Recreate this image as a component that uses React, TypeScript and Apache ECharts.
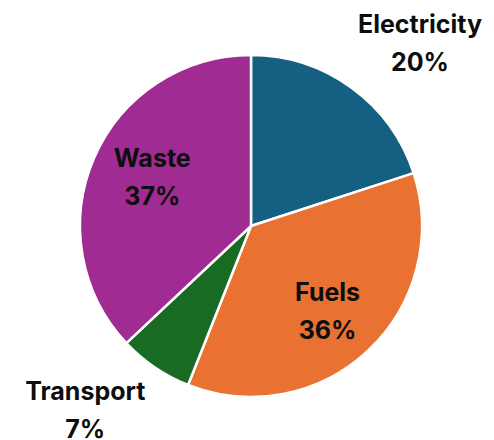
import React, { useEffect, useRef } from "react";
import * as echarts from "echarts";

const categories = ["Electricity", "Fuels", "Transport", "Waste"];
const values = [20, 36, 7, 37];

const sliceColors = ["#156082", "#E97132", "#196B24", "#A02B93"];
const labelOffsets: [number, number][] = [
  [117, -111.5],
  [16, 20],
  [-116, 111],
  [-17.5, -13.5],
];

export default function App() {
  const ref = useRef<HTMLDivElement>(null);
  useEffect(() => {
    document.body.style.margin = "0";
    if (!ref.current) return;
    const chart = echarts.init(ref.current, undefined, { renderer: "svg" });
    chart.setOption({
      animation: false,
      backgroundColor: "#ffffff",
      series: [
        {
          type: "pie",
          center: [251, 226],
          radius: 171,
          startAngle: 90,
          clockwise: true,
          avoidLabelOverlap: false,
          itemStyle: { borderColor: "#ffffff", borderWidth: 2.5 },
          label: {
            show: true,
            position: "inside",
            formatter: "{b}\n{d}%",
            fontFamily: "Inter",
            fontWeight: "bold",
            fontSize: 25,
            lineHeight: 38,
            color: "#0d0d0d",
            align: "center",
          },
          labelLine: { show: false },
          emphasis: { disabled: true },
          data: categories.map((name, i) => ({
            name,
            value: values[i],
            itemStyle: { color: sliceColors[i] },
            label: { offset: labelOffsets[i] },
          })),
        },
      ],
    });
    return () => chart.dispose();
  }, []);
  return <div ref={ref} style={{ width: 494, height: 440 }} />;
}
